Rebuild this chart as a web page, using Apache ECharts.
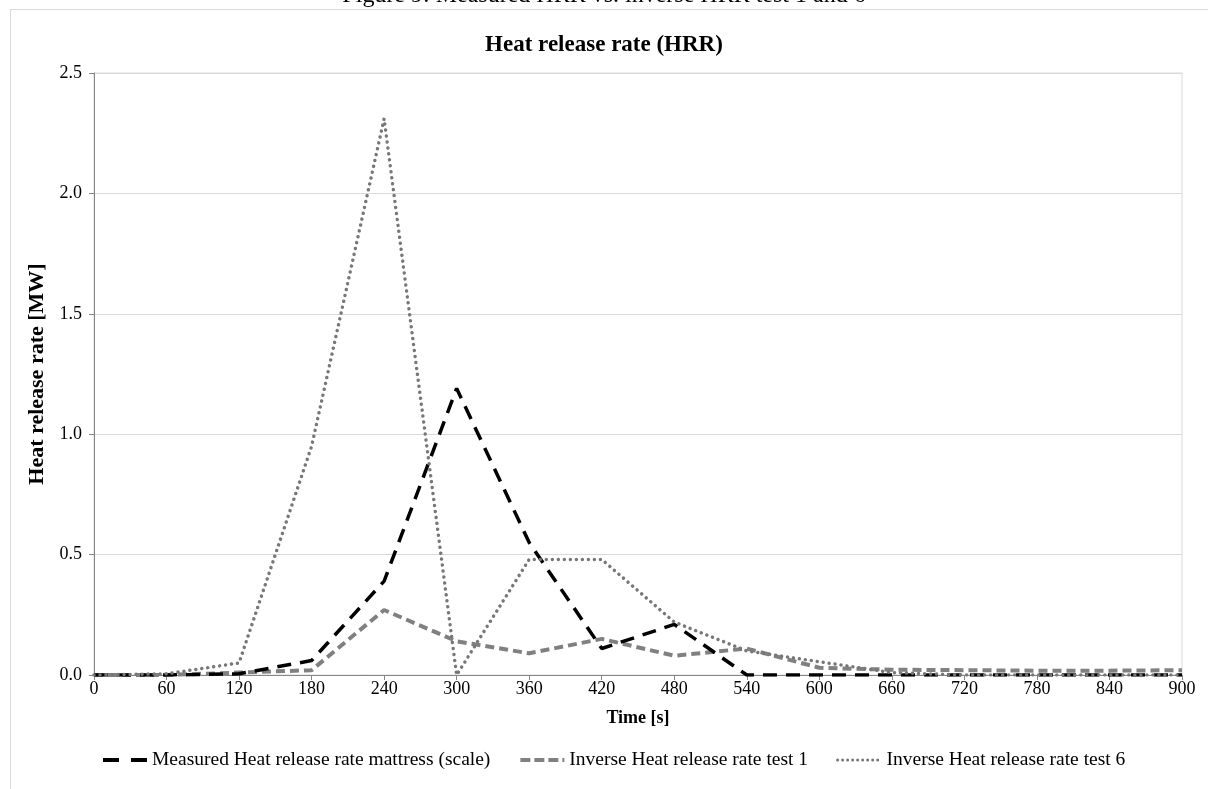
<!DOCTYPE html>
<html>
<head>
<meta charset="utf-8">
<script src="https://cdn.jsdelivr.net/npm/echarts@6/dist/echarts.min.js"></script>
<style>
	html, body { margin: 0; padding: 0; background: #ffffff; }
	#chart { width: 1208px; height: 789px; }
</style>
</head>
<body>
<div id="chart"></div>
<script>
	// time in seconds, values in MW
	var times = [0, 60, 120, 180, 240, 300, 360, 420, 480, 540, 600, 660, 720, 780, 840, 900];
	var measured = [0, 0, 0.005, 0.06, 0.39, 1.19, 0.55, 0.11, 0.21, 0.0, 0, 0, 0, 0, 0, 0];
	var inverse1 = [0, 0, 0.01, 0.02, 0.27, 0.14, 0.09, 0.15, 0.08, 0.11, 0.03, 0.022, 0.02, 0.018, 0.018, 0.02];
	var inverse6 = [0, 0.005, 0.05, 0.95, 2.31, 0, 0.48, 0.48, 0.22, 0.10, 0.055, 0.01, 0, 0, 0, 0];
	var seriesNames = ['Measured Heat release rate mattress (scale)', 'Inverse Heat release rate test 1', 'Inverse Heat release rate test 6'];

	function pairs(vals) {
		var out = [];
		for (var i = 0; i < times.length; i++) {
			out.push([times[i], vals[i]]);
		}
		return out;
	}

	var font = '"Liberation Serif", "Times New Roman", serif';
	var chart = echarts.init(document.getElementById('chart'));
	var option = {
		animation: false,
		textStyle: { fontFamily: font },
		title: {
			text: 'Heat release rate (HRR)',
			left: 'center',
			top: 29,
			textStyle: { fontFamily: font, fontSize: 23, fontWeight: 'bold', color: '#000' }
		},
		graphic: [
			{
				type: 'text',
				left: 'center',
				top: -16,
				style: { text: 'Figure 9: Measured HRR vs. inverse HRR test 1 and 6', font: '24px ' + font, fill: '#000' }
			},
			{
				type: 'rect',
				shape: { x: 10.5, y: 9.5, width: 1400, height: 1000 },
				style: { fill: 'none', stroke: '#d9d9d9', lineWidth: 1 },
				z: -1
			}
		],
		legend: {
			bottom: 14,
			left: 96,
			itemWidth: 44,
			itemHeight: 20,
			itemGap: 28,
			itemStyle: { opacity: 0 },
			textStyle: { fontFamily: font, fontSize: 19.5, color: '#000' },
			data: [
				{ name: seriesNames[0], lineStyle: { width: 4, type: [16, 12] } },
				{ name: seriesNames[1], lineStyle: { width: 4, type: [10, 4] } },
				{ name: seriesNames[2], lineStyle: { width: 3, type: [0.01, 5], cap: 'round' } }
			]
		},
		grid: {
			left: 94,
			right: 26,
			top: 73,
			bottom: 114,
			show: true,
			borderColor: '#d9d9d9',
			borderWidth: 1
		},
		xAxis: {
			type: 'value',
			min: 0,
			max: 900,
			interval: 60,
			name: 'Time [s]',
			nameLocation: 'middle',
			nameGap: 34,
			nameTextStyle: { fontFamily: font, fontSize: 18, fontWeight: 'bold', color: '#000' },
			axisLine: { lineStyle: { color: '#868686', width: 1 } },
			axisTick: { show: true, length: 5, lineStyle: { color: '#868686' } },
			axisLabel: { fontFamily: font, fontSize: 18, color: '#000', margin: 5 },
			splitLine: { show: false }
		},
		yAxis: {
			type: 'value',
			min: 0,
			max: 2.5,
			interval: 0.5,
			name: 'Heat release rate [MW]',
			nameLocation: 'middle',
			nameGap: 41,
			nameRotate: 90,
			nameTextStyle: { fontFamily: font, fontSize: 22, fontWeight: 'bold', color: '#000' },
			axisLine: { show: true, lineStyle: { color: '#868686', width: 1 } },
			axisTick: { show: true, length: 5, lineStyle: { color: '#868686' } },
			axisLabel: {
				fontFamily: font, fontSize: 18, color: '#000', margin: 12,
				formatter: function (v) { return v.toFixed(1); }
			},
			splitLine: { lineStyle: { color: '#d9d9d9', width: 1 } }
		},
		series: [
			{
				name: seriesNames[0],
				type: 'line',
				symbol: 'none',
				data: pairs(measured),
				lineStyle: { color: '#000000', width: 3.5, type: [14, 9] },
				itemStyle: { color: '#000000' },
				z: 3
			},
			{
				name: seriesNames[1],
				type: 'line',
				symbol: 'none',
				data: pairs(inverse1),
				lineStyle: { color: '#808080', width: 4, type: [9, 5] },
				itemStyle: { color: '#808080' },
				z: 2
			},
			{
				name: seriesNames[2],
				type: 'line',
				symbol: 'none',
				data: pairs(inverse6),
				lineStyle: { color: '#777777', width: 3.5, type: [0.01, 6], cap: 'round' },
				itemStyle: { color: '#777777' },
				z: 4
			}
		]
	};
	chart.setOption(option);
</script>
</body>
</html>
